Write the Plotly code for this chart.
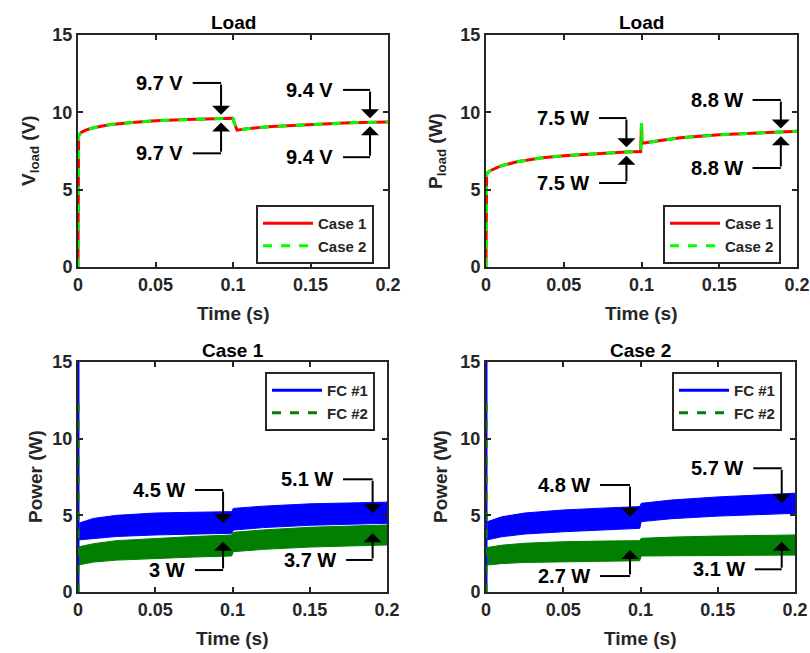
import plotly.graph_objects as go

# ---------------- data ----------------
# Top-left: load voltage (V)
t_load = [0, 0.0004, 0.002, 0.005, 0.01, 0.02, 0.035, 0.05, 0.07, 0.09, 0.0998, 0.1026, 0.11, 0.125, 0.15, 0.175, 0.2]
vload_case1 = [0, 8.5, 8.7, 8.85, 9.0, 9.2, 9.35, 9.45, 9.53, 9.6, 9.62, 8.85, 8.95, 9.08, 9.22, 9.32, 9.38]
vload_case2 = [0, 8.5, 8.7, 8.85, 9.0, 9.2, 9.35, 9.45, 9.53, 9.6, 9.62, 8.85, 8.95, 9.08, 9.22, 9.32, 9.38]

# Top-right: load power (W)
t_pload = [0, 0.0004, 0.002, 0.005, 0.01, 0.02, 0.035, 0.05, 0.07, 0.09, 0.0995, 0.1, 0.1003, 0.1006, 0.11, 0.125, 0.15, 0.175, 0.2]
pload_case1 = [0, 6.0, 6.2, 6.35, 6.55, 6.8, 7.05, 7.2, 7.33, 7.43, 7.47, 9.3, 8.0, 8.0, 8.15, 8.35, 8.55, 8.68, 8.78]
pload_case2 = [0, 6.0, 6.2, 6.35, 6.55, 6.8, 7.05, 7.2, 7.33, 7.43, 7.47, 9.3, 8.0, 8.0, 8.15, 8.35, 8.55, 8.68, 8.78]

# Bottom: fuel-cell power ripple envelopes (W)
t_band = [0.0008, 0.01, 0.025, 0.05, 0.075, 0.0995, 0.1005, 0.12, 0.15, 0.2]
c1_fc1_upper = [4.5, 4.8, 5.0, 5.15, 5.2, 5.24, 5.45, 5.6, 5.75, 5.86]
c1_fc1_lower = [3.4, 3.5, 3.62, 3.72, 3.78, 3.83, 4.04, 4.2, 4.35, 4.48]
c1_fc2_upper = [2.95, 3.15, 3.35, 3.5, 3.62, 3.72, 3.89, 4.05, 4.22, 4.37]
c1_fc2_lower = [1.78, 1.95, 2.08, 2.2, 2.28, 2.35, 2.63, 2.78, 2.93, 3.07]

c2_fc1_upper = [4.58, 4.9, 5.15, 5.35, 5.47, 5.57, 5.78, 6.0, 6.2, 6.44]
c2_fc1_lower = [3.4, 3.6, 3.78, 3.93, 4.05, 4.15, 4.59, 4.78, 4.95, 5.13]
c2_fc2_upper = [2.9, 3.05, 3.18, 3.28, 3.32, 3.35, 3.5, 3.58, 3.65, 3.72]
c2_fc2_lower = [1.76, 1.85, 1.93, 1.98, 2.01, 2.04, 2.35, 2.38, 2.4, 2.41]

# start-up transients at t = 0
t_spike = [0, 0]
fc1_spike = [0, 15]
fc2_spike = [0, 12.4]

# Callouts: (panel, line start t, arrow t, text-line y, arrow tip y, label)
callouts = [
    (1, 0.074, 0.0923, 11.9, 9.85, "9.7 V"),
    (1, 0.074, 0.0923, 7.35, 9.35, "9.7 V"),
    (1, 0.171, 0.1884, 11.45, 9.62, "9.4 V"),
    (1, 0.171, 0.1884, 7.1, 9.1, "9.4 V"),
    (2, 0.0727, 0.0903, 9.63, 7.75, "7.5 W"),
    (2, 0.0727, 0.0903, 5.43, 7.2, "7.5 W"),
    (2, 0.1714, 0.1896, 10.8, 8.95, "8.8 W"),
    (2, 0.1714, 0.1896, 6.4, 8.45, "8.8 W"),
    (3, 0.0757, 0.0939, 6.65, 4.5, "4.5 W"),
    (3, 0.0757, 0.0939, 1.43, 3.28, "3 W"),
    (3, 0.1715, 0.1907, 7.35, 5.13, "5.1 W"),
    (3, 0.1735, 0.1907, 2.09, 3.83, "3.7 W"),
    (4, 0.0738, 0.0932, 6.98, 4.91, "4.8 W"),
    (4, 0.0738, 0.0932, 1.04, 2.74, "2.7 W"),
    (4, 0.173, 0.1914, 8.07, 5.78, "5.7 W"),
    (4, 0.174, 0.1914, 1.48, 3.28, "3.1 W"),
]

titles = ["Load", "Load", "Case 1", "Case 2"]
y_titles = ["V<sub>load</sub> (V)", "P<sub>load</sub> (W)", "Power (W)", "Power (W)"]
x_title = "Time (s)"
x_ticks = [0, 0.05, 0.1, 0.15, 0.2]
x_ticktext = ["0", "0.05", "0.1", "0.15", "0.2"]
y_ticks = [0, 5, 10, 15]

# ---------------- figure ----------------
W, H = 810, 653
FONT = "Liberation Sans"
RED, LGREEN, BLUE, DGREEN = "#ff0000", "#00ff00", "#0000ff", "#007f00"

# panel pixel boxes (left, right, top, bottom)
boxes = {1: (78, 388, 35, 267), 2: (486, 797, 35, 267),
         3: (78, 387, 362, 592), 4: (486, 795, 362, 592)}

def px(x):
    return x / W

def py(y):
    return 1 - y / H

fig = go.Figure()

def ax_names(p):
    return ("x" if p == 1 else f"x{p}", "y" if p == 1 else f"y{p}")

# top panels
for p, t, a, b in [(1, t_load, vload_case1, vload_case2), (2, t_pload, pload_case1, pload_case2)]:
    xa, ya = ax_names(p)
    lg = "legend" if p == 1 else "legend2"
    fig.add_trace(go.Scatter(x=t, y=a, mode="lines", name="Case 1", xaxis=xa, yaxis=ya,
                             line=dict(color=RED, width=3), legend=lg))
    fig.add_trace(go.Scatter(x=t, y=b, mode="lines", name="Case 2", xaxis=xa, yaxis=ya,
                             line=dict(color=LGREEN, width=3, dash="9px,9px"), legend=lg))

# bottom panels
def band(t, up, lo):
    return list(t) + list(t[::-1]), list(up) + list(lo[::-1])

for p, f1u, f1l, f2u, f2l in [(3, c1_fc1_upper, c1_fc1_lower, c1_fc2_upper, c1_fc2_lower),
                              (4, c2_fc1_upper, c2_fc1_lower, c2_fc2_upper, c2_fc2_lower)]:
    xa, ya = ax_names(p)
    lg = "legend3" if p == 3 else "legend4"
    bx, by = band(t_band, f1u, f1l)
    fig.add_trace(go.Scatter(x=bx, y=by, mode="lines", fill="toself", fillcolor=BLUE,
                             line=dict(color=BLUE, width=1), xaxis=xa, yaxis=ya,
                             showlegend=False, hoverinfo="skip"))
    bx, by = band(t_band, f2u, f2l)
    fig.add_trace(go.Scatter(x=bx, y=by, mode="lines", fill="toself", fillcolor=DGREEN,
                             line=dict(color=DGREEN, width=1), xaxis=xa, yaxis=ya,
                             showlegend=False, hoverinfo="skip"))
    fig.add_trace(go.Scatter(x=t_spike, y=fc1_spike, mode="lines", name="FC #1", xaxis=xa, yaxis=ya,
                             line=dict(color=BLUE, width=3), legend=lg))
    fig.add_trace(go.Scatter(x=t_spike, y=fc2_spike, mode="lines", name="FC #2", xaxis=xa, yaxis=ya,
                             line=dict(color=DGREEN, width=3, dash="9px,9px"), legend=lg))

axis_common = dict(showgrid=False, zeroline=False, showline=True, linecolor="#262626", linewidth=2,
                   mirror="ticks", ticks="inside", ticklen=5, tickwidth=1.5, tickcolor="#262626",
                   automargin=False,
                   tickfont=dict(family=FONT, size=18, color="#262626", weight="bold"))

layout = dict(width=W, height=H, margin=dict(l=0, r=0, t=0, b=0, autoexpand=False),
              paper_bgcolor="white", plot_bgcolor="white", showlegend=True)

annotations = []
shapes = []
for p in range(1, 5):
    l, r, t, b = boxes[p]
    sfx = "" if p == 1 else str(p)
    layout["xaxis" + sfx] = dict(axis_common, domain=[px(l), px(r)], range=[0, 0.2],
                                 tickvals=x_ticks, ticktext=x_ticktext,
                                 anchor="y" + sfx)
    layout["yaxis" + sfx] = dict(axis_common, domain=[py(b), py(t)], range=[0, 15],
                                 tickvals=y_ticks, anchor="x" + sfx)
    cx = (l + r) / 2
    annotations.append(dict(text=titles[p - 1], x=px(cx), y=py(t - 12), xref="paper", yref="paper",
                            showarrow=False, xanchor="center", yanchor="middle",
                            font=dict(family=FONT, size=19, color="black", weight="bold")))
    annotations.append(dict(text=x_title, x=px(cx), y=py(b + 46), xref="paper", yref="paper",
                            showarrow=False, xanchor="center", yanchor="middle",
                            font=dict(family=FONT, size=19, color="#262626", weight="bold")))
    ytx = {1: 30, 2: 437, 3: 35, 4: 440}[p]
    annotations.append(dict(text=y_titles[p - 1], x=px(ytx), y=py((t + b) / 2), xref="paper", yref="paper",
                            showarrow=False, xanchor="center", yanchor="middle", textangle=-90,
                            font=dict(family=FONT, size=19, color="#262626", weight="bold")))

for p, t0, ta, yt, ytip, lab in callouts:
    xa, ya = ax_names(p)
    shapes.append(dict(type="line", xref=xa, yref=ya, x0=t0, x1=ta, y0=yt, y1=yt,
                       line=dict(color="black", width=2)))
    annotations.append(dict(x=ta, y=ytip, ax=ta, ay=yt, xref=xa, yref=ya, axref=xa, ayref=ya,
                            text="", showarrow=True, arrowhead=1, arrowsize=1.5, arrowwidth=2,
                            arrowcolor="black", standoff=0, startstandoff=0))
    annotations.append(dict(x=t0, y=yt, xref=xa, yref=ya, text=lab, showarrow=False,
                            xanchor="right", yanchor="middle", xshift=-8,
                            font=dict(family=FONT, size=20, color="black", weight="bold")))

leg_common = dict(bgcolor="white", bordercolor="#262626", borderwidth=2, xanchor="left", yanchor="top",
                  font=dict(family=FONT, size=15, color="#262626", weight="bold"),
                  itemwidth=50, tracegroupgap=0)
layout["legend"] = dict(leg_common, x=px(256), y=py(205))
layout["legend2"] = dict(leg_common, x=px(663), y=py(205))
layout["legend3"] = dict(leg_common, x=px(265), y=py(372))
layout["legend4"] = dict(leg_common, x=px(672), y=py(372))
layout["annotations"] = annotations
layout["shapes"] = shapes

fig.update_layout(**layout)
fig.write_html("out.html")
